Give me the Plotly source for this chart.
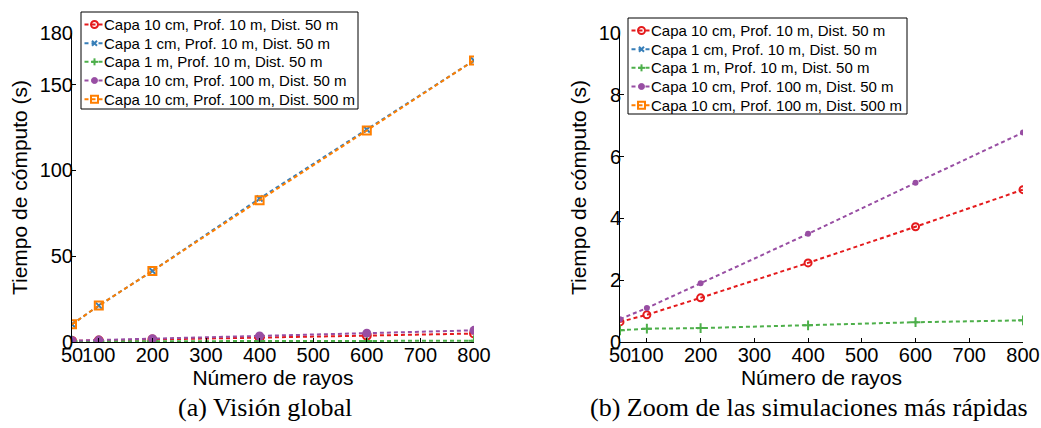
import plotly.graph_objects as go

# ---- data ----
rays = [50, 100, 200, 400, 600, 800]
names = [
    "Capa 10 cm, Prof. 10 m, Dist. 50 m",
    "Capa 1 cm, Prof. 10 m, Dist. 50 m",
    "Capa 1 m, Prof. 10 m, Dist. 50 m",
    "Capa 10 cm, Prof. 100 m, Dist. 50 m",
    "Capa 10 cm, Prof. 100 m, Dist. 500 m",
]
t_10cm_10m_50m = [0.65, 0.88, 1.43, 2.56, 3.73, 4.93]
t_1cm_10m_50m = [10.3, 21.2, 41.4, 83.6, 123.8, 164.0]
t_1m_10m_50m = [0.38, 0.43, 0.45, 0.54, 0.64, 0.70]
t_10cm_100m_50m = [0.74, 1.10, 1.90, 3.50, 5.15, 6.78]
t_10cm_100m_500m = [10.3, 21.2, 41.4, 82.6, 123.2, 164.0]
series = [t_10cm_10m_50m, t_1cm_10m_50m, t_1m_10m_50m, t_10cm_100m_50m, t_10cm_100m_500m]

x_ticks = [50, 100, 200, 300, 400, 500, 600, 700, 800]
y_ticks_left = [0, 50, 100, 150, 180]
y_ticks_right = [0, 2, 4, 6, 8, 10]

# ---- styles ----
colors = ["#e41a1c", "#377eb8", "#4daf4a", "#984ea3", "#ff7f00"]
symbols = ["circle-open", "x-thin", "cross-thin", "circle", "square-open"]
msizes_left = [8, 6, 8, 9, 8]
msizes_right = [7, 5, 7, 6, 6]
mlw = [2, 2, 2, 0, 2]
DASH = "4px,3px"

W, H = 1041, 428
def px_x(v):
    return v / W
def px_y(v):
    return (H - v) / H

fig = go.Figure()
for panel, (xa, ya) in enumerate([("x", "y"), ("x2", "y2")]):
    sizes = msizes_left if panel == 0 else msizes_right
    for i in range(5):
        fig.add_trace(go.Scatter(
            x=rays, y=series[i], name=names[i], mode="lines+markers",
            xaxis=xa, yaxis=ya, showlegend=False,
            line=dict(color=colors[i], width=2, dash=DASH),
            marker=dict(symbol=symbols[i], size=sizes[i],
                        color=colors[i], line=dict(color=colors[i], width=mlw[i])),
        ))

# ---- hand-drawn legends (one per panel), placed in pixel layout units ----
shapes = []
annotations = []
legend_font = dict(family="Liberation Sans, Arial", size=15, color="black")

def add_legend(left, top, right, bottom):
    shapes.append(dict(type="rect", xref="paper", yref="paper", layer="above",
                       x0=px_x(left), x1=px_x(right), y0=px_y(bottom), y1=px_y(top),
                       line=dict(color="black", width=1), fillcolor="white"))
    for k in range(5):
        yc = top + 12.5 + 18.67 * k
        c = colors[k]
        shapes.append(dict(type="line", xref="paper", yref="paper", layer="above",
                           x0=px_x(left + 3.5), x1=px_x(left + 23.5),
                           y0=px_y(yc), y1=px_y(yc),
                           line=dict(color=c, width=2, dash=DASH)))
        mx, my = px_x(left + 13.5), px_y(yc)
        base = dict(xref="paper", yref="paper", layer="above",
                    xsizemode="pixel", ysizemode="pixel", xanchor=mx, yanchor=my)
        sym = symbols[k]
        if sym == "circle-open":
            shapes.append(dict(type="circle", x0=-3.5, x1=3.5, y0=-3.5, y1=3.5,
                               line=dict(color=c, width=2), fillcolor="rgba(0,0,0,0)", **base))
        elif sym == "circle":
            shapes.append(dict(type="circle", x0=-3, x1=3, y0=-3, y1=3,
                               line=dict(color=c, width=1), fillcolor=c, **base))
        elif sym == "square-open":
            shapes.append(dict(type="rect", x0=-3.5, x1=3.5, y0=-3.5, y1=3.5,
                               line=dict(color=c, width=2), fillcolor="rgba(0,0,0,0)", **base))
        elif sym == "x-thin":
            shapes.append(dict(type="line", x0=-2.5, x1=2.5, y0=-2.5, y1=2.5,
                               line=dict(color=c, width=2), **base))
            shapes.append(dict(type="line", x0=-2.5, x1=2.5, y0=2.5, y1=-2.5,
                               line=dict(color=c, width=2), **base))
        elif sym == "cross-thin":
            shapes.append(dict(type="line", x0=-3.5, x1=3.5, y0=0, y1=0,
                               line=dict(color=c, width=2), **base))
            shapes.append(dict(type="line", x0=0, x1=0, y0=-3.5, y1=3.5,
                               line=dict(color=c, width=2), **base))
        annotations.append(dict(text=names[k], xref="paper", yref="paper",
                                x=px_x(left + 21), y=px_y(yc), xanchor="left", yanchor="middle",
                                showarrow=False, font=legend_font))

add_legend(81, 12, 358, 109)
add_legend(628, 18, 907, 114)

tickfont = dict(family="Liberation Sans, Arial", size=20, color="black")
titlefont = dict(family="Liberation Sans, Arial", size=21, color="black")
common_x = dict(range=[50, 800], tickvals=x_ticks, ticks="inside", ticklen=4, tickangle=0,
                tickcolor="black", showline=True, linecolor="black", linewidth=1,
                showgrid=False, zeroline=False, tickfont=tickfont, automargin=False,
                ticklabelstandoff=-5,
                title=dict(text="Número de rayos", font=titlefont, standoff=0))
common_y = dict(ticks="inside", ticklen=4, tickcolor="black", showline=True,
                linecolor="black", linewidth=1, showgrid=False, zeroline=False,
                tickfont=tickfont, automargin=False, tickangle=0,
                ticklabelstandoff=-6,
                title=dict(text="Tiempo de cómputo (s)", font=titlefont, standoff=6))

cap_font = dict(family="Liberation Serif, serif", size=26, color="black")
annotations += [
    dict(text="(a) Visión global", x=px_x(265), y=px_y(407), xref="paper", yref="paper",
         showarrow=False, xanchor="center", yanchor="middle", font=cap_font),
    dict(text="(b) Zoom de las simulaciones más rápidas", x=px_x(809), y=px_y(407),
         xref="paper", yref="paper", showarrow=False, xanchor="center", yanchor="middle",
         font=cap_font),
]

ydom = [px_y(342), px_y(33)]
fig.update_layout(
    width=W, height=H, margin=dict(l=0, r=0, t=0, b=0, autoexpand=False),
    paper_bgcolor="white", plot_bgcolor="white",
    showlegend=False,
    xaxis=dict(domain=[px_x(72), px_x(474)], anchor="y", **common_x),
    yaxis=dict(domain=ydom, anchor="x", range=[0, 180], tickvals=y_ticks_left, **common_y),
    xaxis2=dict(domain=[px_x(620), px_x(1023)], anchor="y2", **common_x),
    yaxis2=dict(domain=ydom, anchor="x2", range=[0, 10], tickvals=y_ticks_right, **common_y),
    shapes=shapes,
    annotations=annotations,
)

# the page's default body margin would shift the figure; remove it
fig.write_html("out.html", config={"displayModeBar": False},
               post_script="document.body.style.margin='0';document.body.style.overflow='hidden';")
